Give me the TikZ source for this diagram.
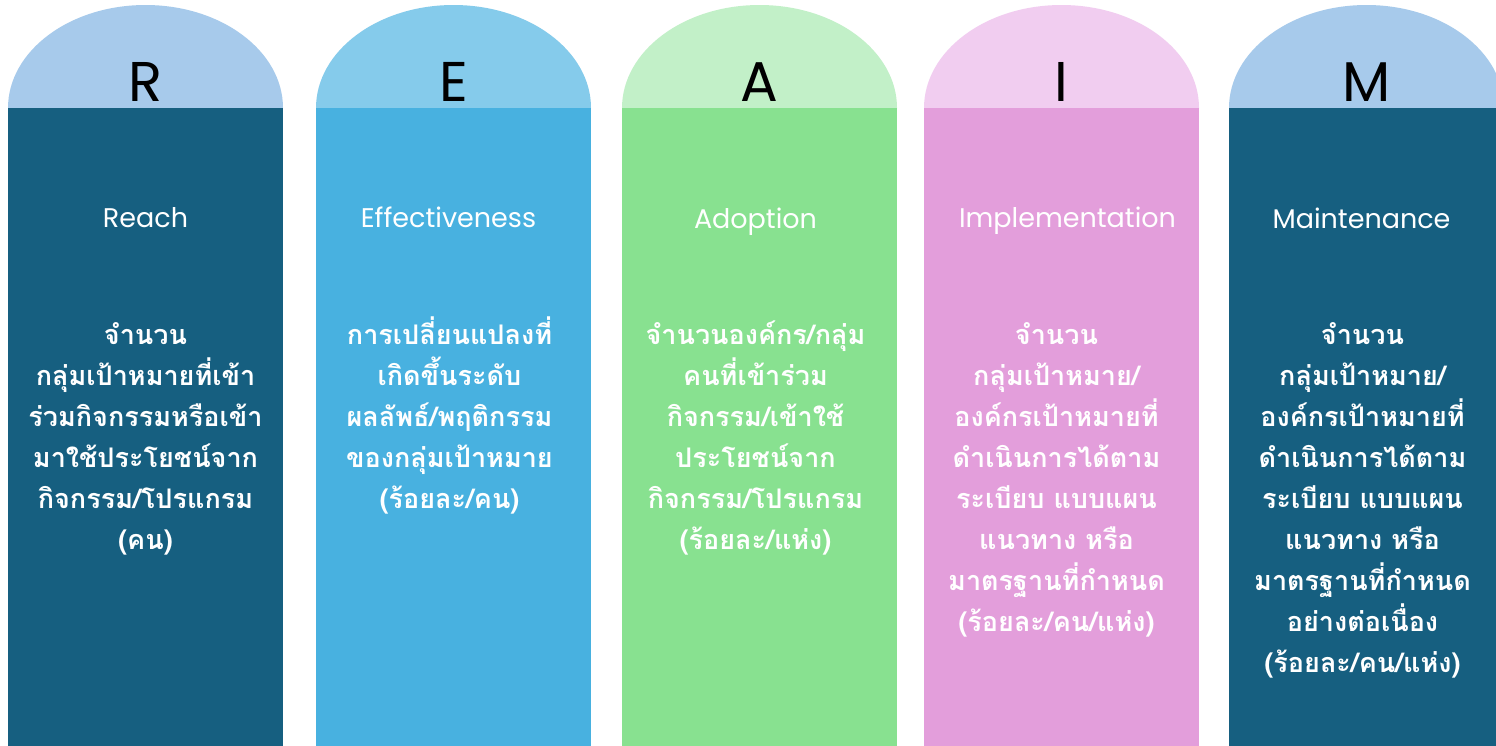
\documentclass[tikz,border=0pt]{standalone}
\usepackage{fontspec}
\newfontfamily\latinfont{Poppins}
\newfontfamily\thaifont[Script=Thai]{Loma}
\definecolor{darkteal}{HTML}{165F80}
\definecolor{lightblueA}{HTML}{A7CAEB}
\definecolor{skyrect}{HTML}{48B1E0}
\definecolor{skyarc}{HTML}{85CBEB}
\definecolor{greenrect}{HTML}{88E190}
\definecolor{greenarc}{HTML}{C2F0C8}
\definecolor{pinkrect}{HTML}{E39EDB}
\definecolor{pinkarc}{HTML}{F1CDF0}
\tikzset{
  bigletter/.style={font=\latinfont\fontsize{56}{60}\selectfont, text=black, anchor=base, inner sep=0pt},
  coltitle/.style={font=\latinfont\fontsize{27}{32}\selectfont, text=white, anchor=base, inner sep=0pt},
  thaitext/.style={font=\thaifont\bfseries\fontsize{27}{41}\selectfont, text=white, anchor=base, inner sep=0pt, text width=272pt, align=center},
}
\newcommand{\pillar}[4]{% left x, arc colour, rect colour, name
  \begin{scope}
    \clip (#1,0) rectangle (#1+275,108.5);
    \fill[#2] (#1+137.5,108) ellipse [x radius=137.5pt, y radius=103pt];
  \end{scope}
  \fill[#3] (#1,108) rectangle (#1+275,760);
}
\begin{document}
\begin{tikzpicture}[x=1pt,y=-1pt]
\useasboundingbox (0,0) rectangle (1496,745);
\fill[white] (0,0) rectangle (1496,745);
\pillar{8}{lightblueA}{darkteal}{r}
\pillar{316}{skyarc}{skyrect}{e}
\pillar{622}{greenarc}{greenrect}{a}
\pillar{924}{pinkarc}{pinkrect}{i}
\pillar{1229}{lightblueA}{darkteal}{m}

\node[bigletter] (lr) at (145.5,101) {R};
\node[bigletter] (le) at (453.5,101) {E};
\node[bigletter] (la) at (759.5,101) {A};
\node[bigletter] (li) at (1061.5,101) {I};
\node[bigletter] (lm) at (1366.5,101) {M};

\node[coltitle] (tr) at (145.5,227) {Reach};
\node[coltitle] (te) at (448.5,227) {Effectiveness};
\node[coltitle] (ta) at (755.5,228) {Adoption};
\node[coltitle] (ti) at (1067.5,227) {Implementation};
\node[coltitle] (tm) at (1361.5,228) {Maintenance};

\node[thaitext] (dr) at (145.5,344) {จำนวน\\กลุ่มเป้าหมายที่เข้า\\ร่วมกิจกรรมหรือเข้า\\มาใช้ประโยชน์จาก\\กิจกรรม/โปรแกรม\\(คน)};
\node[thaitext] (de) at (449.5,344) {การเปลี่ยนแปลงที่\\เกิดขึ้นระดับ\\ผลลัพธ์/พฤติกรรม\\ของกลุ่มเป้าหมาย\\(ร้อยละ/คน)};
\node[thaitext] (da) at (755.5,344) {จำนวนองค์กร/กลุ่ม\\คนที่เข้าร่วม\\กิจกรรม/เข้าใช้\\ประโยชน์จาก\\กิจกรรม/โปรแกรม\\(ร้อยละ/แห่ง)};
\node[thaitext] (di) at (1056.5,344) {จำนวน\\กลุ่มเป้าหมาย/\\องค์กรเป้าหมายที่\\ดำเนินการได้ตาม\\ระเบียบ แบบแผน\\แนวทาง หรือ\\มาตรฐานที่กำหนด\\(ร้อยละ/คน/แห่ง)};
\node[thaitext] (dm) at (1362.5,344) {จำนวน\\กลุ่มเป้าหมาย/\\องค์กรเป้าหมายที่\\ดำเนินการได้ตาม\\ระเบียบ แบบแผน\\แนวทาง หรือ\\มาตรฐานที่กำหนด\\อย่างต่อเนื่อง\\(ร้อยละ/คน/แห่ง)};
\end{tikzpicture}
\end{document}
